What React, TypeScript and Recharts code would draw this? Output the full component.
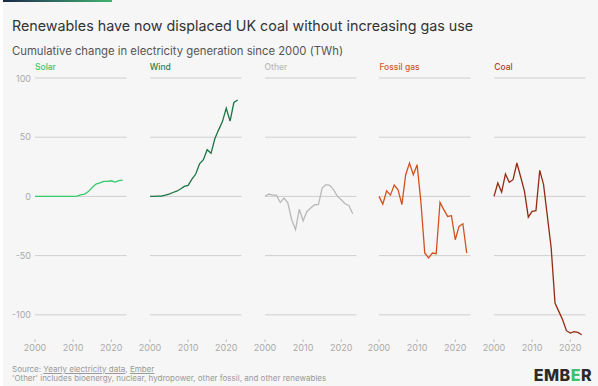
import React from 'react';
import { LineChart, Line, XAxis, YAxis, ReferenceLine } from 'recharts';

// years shared by every panel
const YEARS = [
  2000, 2001, 2002, 2003, 2004, 2005, 2006, 2007, 2008, 2009, 2010, 2011,
  2012, 2013, 2014, 2015, 2016, 2017, 2018, 2019, 2020, 2021, 2022, 2023,
];

// cumulative change since 2000, TWh
const SOLAR = [0, 0, 0, 0, 0, 0, 0, 0, 0, 0, 0.04, 0.24, 1.35, 2.01, 4.05, 7.53, 10.4, 11.5, 12.7, 12.7, 13.2, 12.1, 13.3, 13.8];
const WIND = [0, 0.02, 0.3, 0.3, 1, 2, 3.3, 4.4, 6.2, 8.4, 9.3, 14.6, 18.9, 27.5, 31, 39.4, 36.4, 48.7, 56.2, 63.2, 74.5, 63.6, 79.3, 81.4];
const OTHER = [0, 2, 1.1, 1.1, -5.1, -1.4, -5.6, -19.7, -28.1, -10.7, -20.6, -12.7, -9.8, -7, -7, 7, 9.9, 9.3, 5.6, 0, -2.8, -6.2, -7.6, -14.6];
const GAS = [0, -6.5, 4.8, 1.1, 9.6, 5.6, -7, 18.3, 28.2, 18.3, 26.8, -5, -47.8, -52, -47.8, -48.4, -5, -11.2, -16.9, -16.3, -36.6, -25.3, -23.1, -47.8];
const COAL = [0, 11.3, 3.7, 18.9, 11.9, 14.1, 28.2, 16.4, 4.2, -17.5, -12.7, -12.1, 22, 9.9, -16.9, -43.6, -90, -97.1, -104.1, -113.4, -115.4, -114.2, -114.8, -116.8];

const PANEL_NAMES = ['Solar', 'Wind', 'Other', 'Fossil gas', 'Coal'];
const PANEL_COLORS = ['#35c96a', '#1d7445', '#b9b9b9', '#d4511f', '#952a12'];
const LABEL_COLORS = ['#35c96a', '#2a7d50', '#bbbbbb', '#d4582a', '#a9442c'];
const PANEL_VALUES = [SOLAR, WIND, OTHER, GAS, COAL];

const Y_TICKS = [-100, -50, 0, 50, 100];
const X_TICKS = [2000, 2010, 2020];

const FONT = 'Inter, "Noto Sans", sans-serif';

// plot geometry
const PLOT_LEFT = 35;
const PLOT_TOP = 78.3;
const PLOT_W = 91.5;
const PLOT_H = 260.5;
const PITCH = 114.8;
const PAD = 4;
const SIDE = 12;
const Y_W = 30;
const X_H = 22;

const YearTick = (props: any) => {
  const { x, y, payload } = props;
  return (
    <g>
      <line x1={x} x2={x} y1={y + 1} y2={y + 3.5} stroke="#bbb" strokeWidth={1} />
      <text x={x} y={y + 12.5} textAnchor="middle" fill="#aaa" fontSize={9} fontFamily={FONT}>
        {payload.value}
      </text>
    </g>
  );
};

const Panel = ({ index }: { index: number }) => {
  const rows = YEARS.map((year, i) => ({ year, value: PANEL_VALUES[index][i] }));
  const first = index === 0;
  const left = PLOT_LEFT + index * PITCH - SIDE - (first ? Y_W : 0);
  const width = PLOT_W + SIDE * 2 + (first ? Y_W : 0);
  return (
    <div style={{ position: 'absolute', left, top: PLOT_TOP - PAD }}>
      <LineChart
        width={width}
        height={PLOT_H + PAD + X_H}
        data={rows}
        margin={{ top: PAD, right: SIDE, bottom: 0, left: SIDE }}
      >
        <XAxis
          dataKey="year"
          type="number"
          domain={[2000, 2024]}
          ticks={X_TICKS}
          interval={0}
          axisLine={false}
          tickLine={false}
          tickSize={0}
          tickMargin={0}
          height={X_H}
          tick={<YearTick />}
        />
        <YAxis
          hide={!first}
          width={Y_W}
          type="number"
          domain={[-120, 100]}
          ticks={Y_TICKS}
          axisLine={false}
          tickLine={false}
          tickSize={0}
          tickMargin={4}
          tick={{ fill: '#aaa', fontSize: 9, fontFamily: FONT }}
        />
        {Y_TICKS.map((v) => (
          <ReferenceLine key={v} y={v} stroke="#cfcfcf" strokeWidth={1} />
        ))}
        <Line
          type="linear"
          dataKey="value"
          stroke={PANEL_COLORS[index]}
          strokeWidth={1.3}
          dot={false}
          isAnimationActive={false}
        />
      </LineChart>
      <div
        style={{
          position: 'absolute',
          left: SIDE + (first ? Y_W : 0),
          top: -11,
          fontSize: 8.5,
          fontWeight: 500,
          color: LABEL_COLORS[index],
          fontFamily: FONT,
          whiteSpace: 'nowrap',
          lineHeight: 1,
        }}
      >
        {PANEL_NAMES[index]}
      </div>
    </div>
  );
};

export default function App() {
  return (
    <div style={{ position: 'absolute', left: 0, top: 0, width: 598, height: 386, background: '#fff', overflow: 'hidden', fontFamily: FONT }}>
      <div style={{ position: 'absolute', left: 3, top: 0, width: 595, height: 386, background: '#f6f6f6' }} />
      <div style={{ position: 'absolute', left: 3, top: 0, width: 109, height: 2, background: 'linear-gradient(90deg, #1b2748, #2f6f63, #3fb46f)' }} />
      <div style={{ position: 'absolute', left: 12, top: 18.5, fontSize: 14.3, color: '#333', lineHeight: 1, whiteSpace: 'nowrap' }}>
        Renewables have now displaced UK coal without increasing gas use
      </div>
      <div style={{ position: 'absolute', left: 12, top: 45.5, fontSize: 11.3, color: '#555', lineHeight: 1, whiteSpace: 'nowrap' }}>
        Cumulative change in electricity generation since 2000 (TWh)
      </div>
      {PANEL_NAMES.map((_, i) => (
        <Panel key={i} index={i} />
      ))}
      <div style={{ position: 'absolute', left: 12, top: 365, fontSize: 8, color: '#999', lineHeight: '8.5px', whiteSpace: 'nowrap' }}>
        <div>
          Source: <span style={{ textDecoration: 'underline' }}>Yearly electricity data</span>,{' '}
          <span style={{ textDecoration: 'underline' }}>Ember</span>
        </div>
        <div>'Other' includes bioenergy, nuclear, hydropower, other fossil, and other renewables</div>
      </div>
      <svg style={{ position: 'absolute', left: 530, top: 362 }} width={68} height={24}>
        <text x={62} y={19} textAnchor="end" fontSize={16} fontWeight={800} fill="#2a2a2a" fontFamily={FONT} letterSpacing={0.5}>
          EMB<tspan fill="#3fbf6f">E</tspan>R
        </text>
      </svg>
    </div>
  );
}
